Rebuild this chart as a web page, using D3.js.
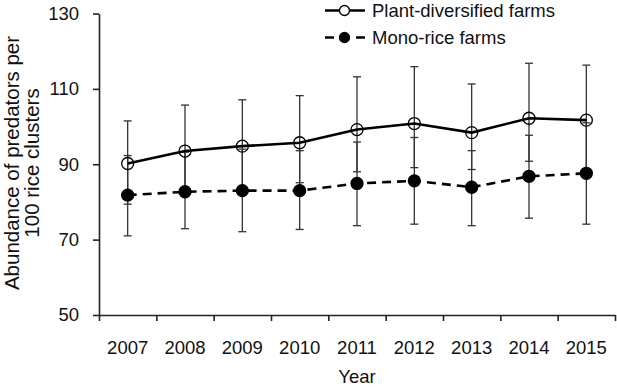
<!DOCTYPE html>
<html>
<head>
<meta charset="utf-8">
<script src="https://cdn.jsdelivr.net/npm/d3@7"></script>
<style>
  html, body { margin: 0; padding: 0; background: #fff; }
  svg text { font-family: "Liberation Sans", Arial, sans-serif; fill: #111; }
</style>
</head>
<body>
<div id="chart"></div>
<script>
// Chart values
const years = ['2007', '2008', '2009', '2010', '2011', '2012', '2013', '2014', '2015'];

const plantMean  = [90.2, 93.5, 94.8, 95.7, 99.2, 100.8, 98.4, 102.2, 101.7];
const plantUpper = [101.5, 105.7, 107.1, 108.2, 113.2, 115.9, 111.3, 116.8, 116.3];
const plantLower = [79.4, 82.8, 83.5, 85.1, 88.0, 89.1, 88.6, 90.8, 88.0];

const monoMean  = [81.8, 82.7, 83.0, 83.0, 84.9, 85.6, 83.9, 86.8, 87.6];
const monoUpper = [92.3, 93.2, 94.0, 93.6, 95.9, 97.1, 93.6, 97.7, 101.0];
const monoLower = [71.0, 72.9, 72.1, 72.7, 73.7, 74.1, 73.7, 75.7, 74.1];

const yTicks = [50, 70, 90, 110, 130];
const seriesNames = ['Plant-diversified farms', 'Mono-rice farms'];

const series = [
  { name: seriesNames[0], mean: plantMean, upper: plantUpper, lower: plantLower, dash: null, fill: '#fff' },
  { name: seriesNames[1], mean: monoMean, upper: monoUpper, lower: monoLower, dash: '9,6', fill: '#000' }
];

// Dimensions
const width = 617;
const height = 387;
const margin = { top: 13.5, right: 2, bottom: 72, left: 99 };
const fontSize = 18.5;

const svg = d3.select('#chart')
  .append('svg')
    .attr('width', width)
    .attr('height', height);

// Scales
const x = d3.scaleBand()
  .domain(years)
  .range([margin.left, width - margin.right])
  .padding(0);

const y = d3.scaleLinear()
  .domain([50, 130])
  .range([height - margin.bottom, margin.top]);

const axisColor = '#222';

// X axis: tick marks sit between the years
const xEdge = d3.scaleLinear()
  .domain([0, years.length])
  .range(x.range());

const xAxis = svg.append('g')
  .attr('transform', 'translate(0,' + y(50) + ')')
  .call(d3.axisBottom(xEdge).ticks(years.length).tickFormat('').tickSize(6).tickSizeOuter(0));

const xLabels = svg.append('g')
  .attr('transform', 'translate(0,' + y(50) + ')')
  .call(d3.axisBottom(x).tickSize(0).tickPadding(26));
xLabels.select('.domain').remove();

// Y axis
const yAxis = svg.append('g')
  .attr('transform', 'translate(' + margin.left + ',0)')
  .call(d3.axisLeft(y).tickValues(yTicks).tickSize(6).tickSizeOuter(0).tickPadding(14));

[xAxis, xLabels, yAxis].forEach((g) => {
  g.selectAll('.domain, line').attr('stroke', axisColor).attr('stroke-width', 1.6);
  g.selectAll('text').attr('font-size', fontSize).attr('fill', '#111')
    .attr('font-family', '"Liberation Sans", Arial, sans-serif');
});

// Axis titles
svg.append('text')
  .attr('x', (x.range()[0] + x.range()[1]) / 2)
  .attr('y', 383)
  .attr('text-anchor', 'middle')
  .attr('font-size', fontSize)
  .text('Year');

const yTitle = svg.append('text')
  .attr('transform', 'translate(19,163) rotate(-90)')
  .attr('text-anchor', 'middle')
  .attr('font-size', 20.5);
yTitle.append('tspan').attr('x', 0).attr('y', 0).text('Abundance of predators per');
yTitle.append('tspan').attr('x', 0).attr('y', 19.5).text('100 rice clusters');

const cx = (i) => x(years[i]) + x.bandwidth() / 2;

// Error bars
const capHalf = 4;
series.forEach((s) => {
  const bars = svg.append('g').attr('stroke', '#333').attr('stroke-width', 1.3);
  years.forEach((yr, i) => {
    bars.append('line')
      .attr('x1', cx(i)).attr('x2', cx(i))
      .attr('y1', y(s.upper[i])).attr('y2', y(s.lower[i]));
    [s.upper[i], s.lower[i]].forEach((v) => {
      bars.append('line')
        .attr('x1', cx(i) - capHalf).attr('x2', cx(i) + capHalf)
        .attr('y1', y(v)).attr('y2', y(v));
    });
  });
});

// Lines and markers
const line = d3.line()
  .x((d, i) => cx(i))
  .y((d) => y(d));

series.forEach((s) => {
  svg.append('path')
    .datum(s.mean)
    .attr('fill', 'none')
    .attr('stroke', '#000')
    .attr('stroke-width', 2.6)
    .attr('stroke-dasharray', s.dash)
    .attr('d', line);

  svg.append('g')
    .selectAll('circle')
    .data(s.mean)
    .join('circle')
      .attr('cx', (d, i) => cx(i))
      .attr('cy', (d) => y(d))
      .attr('r', 6)
      .attr('fill', s.fill === '#fff' ? 'none' : s.fill)
      .attr('stroke', '#000')
      .attr('stroke-width', 1.3);
});

// Legend
const legend = svg.append('g').attr('transform', 'translate(325,0)');
series.forEach((s, i) => {
  const row = legend.append('g').attr('transform', 'translate(0,' + (10.5 + i * 27) + ')');
  row.append('line')
    .attr('x1', 0).attr('x2', 40)
    .attr('stroke', '#000')
    .attr('stroke-width', 2.6)
    .attr('stroke-dasharray', s.dash ? '9,22' : null);
  row.append('circle')
    .attr('cx', 19.5).attr('r', 5)
    .attr('fill', s.fill)
    .attr('stroke', '#000')
    .attr('stroke-width', 1.3);
  row.append('text')
    .attr('x', 47)
    .attr('dy', '0.35em')
    .attr('font-size', fontSize)
    .text(s.name);
});
</script>
</body>
</html>
